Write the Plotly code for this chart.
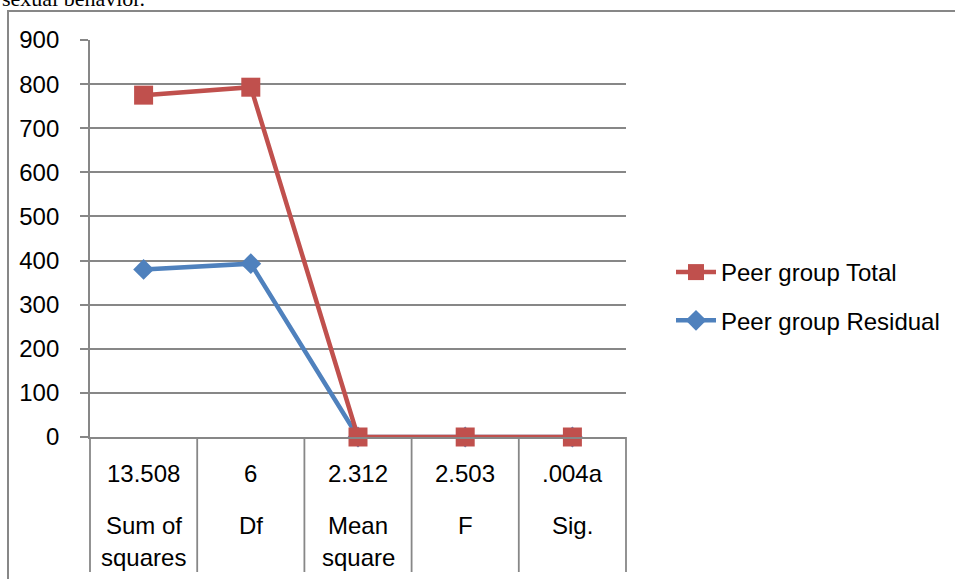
import plotly.graph_objects as go

# ---- data ----
categories = ["Sum of squares", "Df", "Mean square", "F", "Sig."]
category_lines = [["Sum of", "squares"], ["Df"], ["Mean", "square"], ["F"], ["Sig."]]
stat_values = ["13.508", "6", "2.312", "2.503", ".004a"]
total_values = [775, 793, 0, 0, 0]
residual_values = [380, 393, 0, 0, 0]
y_ticks = [0, 100, 200, 300, 400, 500, 600, 700, 800, 900]
caption = "sexual behavior."

RED = "#C0504D"
BLUE = "#4F81BD"
GRID = "#878787"
FONT = "Liberation Sans, Arial, sans-serif"

W, H = 955, 579
L, R, T, B = 90, 626, 40, 437  # plot area in px

def px_x(px):
    return (px - L) / (R - L)

def px_y(py):
    return (B - py) / (B - T)

xs = list(range(len(categories)))

fig = go.Figure()
fig.add_trace(go.Scatter(
    x=xs, y=residual_values, name="Peer group Residual", mode="lines+markers",
    line=dict(color=BLUE, width=4.5),
    marker=dict(symbol="diamond", size=16, color=BLUE),
    legendgroup="b", legendrank=2, cliponaxis=False,
))
fig.add_trace(go.Scatter(
    x=xs, y=total_values, name="Peer group Total", mode="lines+markers",
    line=dict(color=RED, width=4.5),
    marker=dict(symbol="square", size=19, color=RED),
    legendgroup="a", legendrank=1, cliponaxis=False,
))

shapes = []
# outer chart border
shapes.append(dict(type="rect", xref="paper", yref="paper",
                   x0=px_x(8), x1=px_x(962), y0=px_y(590), y1=px_y(11),
                   line=dict(color=GRID, width=2), layer="below"))
# table dividers under the x axis
for i in range(len(categories) + 1):
    shapes.append(dict(type="line", xref="paper", yref="paper",
                       x0=i / len(categories), x1=i / len(categories),
                       y0=0, y1=px_y(572),
                       line=dict(color=GRID, width=1.8), layer="below"))

annotations = []
for i, (v, lines) in enumerate(zip(stat_values, category_lines)):
    annotations.append(dict(x=i, xref="x", y=px_y(473), yref="paper",
                            text=v, showarrow=False, xanchor="center", yanchor="middle",
                            font=dict(family=FONT, size=24, color="black")))
    for j, ln in enumerate(lines):
        annotations.append(dict(x=i, xref="x", y=px_y(525 + 32 * j), yref="paper",
                                text=ln, showarrow=False, xanchor="center", yanchor="middle",
                                font=dict(family=FONT, size=24, color="black")))
annotations.append(dict(x=px_x(0), xref="paper", y=px_y(-2), yref="paper",
                        text=caption, showarrow=False, xanchor="left", yanchor="middle",
                        font=dict(family="Liberation Serif, Times New Roman, serif", size=22, color="black")))

fig.update_layout(
    width=W, height=H,
    margin=dict(l=L, r=W - R, t=T, b=H - B, pad=0, autoexpand=False),
    paper_bgcolor="white", plot_bgcolor="white",
    font=dict(family=FONT, size=24, color="black"),
    shapes=shapes, annotations=annotations,
    showlegend=True,
    legend=dict(x=px_x(671), y=px_y(250), xanchor="left", yanchor="top",
                traceorder="grouped", tracegroupgap=14,
                font=dict(family=FONT, size=24, color="black"),
                bgcolor="rgba(0,0,0,0)", itemwidth=40),
)
fig.update_xaxes(range=[-0.5, len(categories) - 0.5], showticklabels=False,
                 showgrid=False, zeroline=False, showline=True, linecolor=GRID, linewidth=1.8,
                 ticks="", fixedrange=True, automargin=False)
fig.update_yaxes(range=[0, 900], tickvals=y_ticks, ticktext=[str(t) for t in y_ticks],
                 showgrid=True, gridcolor=GRID, gridwidth=1.8, zeroline=False,
                 showline=True, linecolor=GRID, linewidth=1.8, automargin=False,
                 ticks="outside", ticklen=8, tickcolor=GRID, tickwidth=1.8,
                 ticklabelstandoff=16, tickfont=dict(family=FONT, size=24, color="black"))

fig.write_html("out.html", config={"displayModeBar": False},
               post_script="document.body.style.margin='0';document.body.style.overflow='hidden';")
